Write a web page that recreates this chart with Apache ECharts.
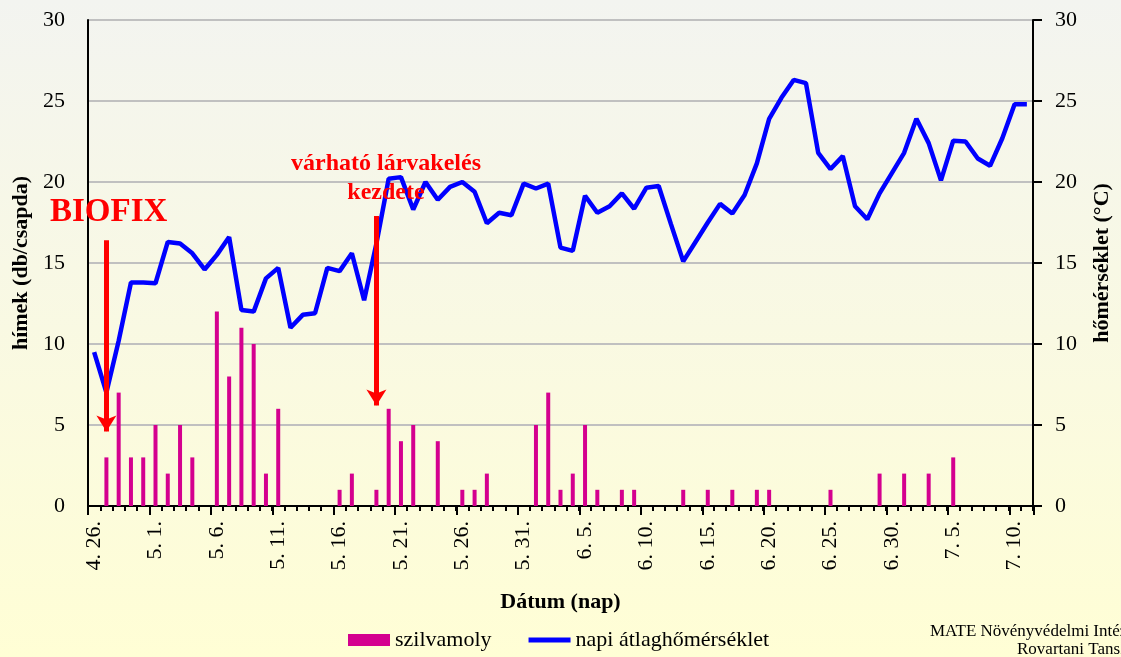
<!DOCTYPE html>
<html>
<head>
    <meta charset="utf-8">
    <title>szilvamoly</title>
    <script src="https://cdn.jsdelivr.net/npm/echarts@6/dist/echarts.min.js"></script>
    <style>
        html, body {
            margin: 0;
            padding: 0;
        }

        #chart {
            width: 1121px;
            height: 657px;
        }
    </style>
</head>
<body>
<div id="chart"></div>
<script>
    // napok (4.26. - 7.11.)
    var dates = [
        '4. 26.', '4. 27.', '4. 28.', '4. 29.', '4. 30.',
        '5. 1.', '5. 2.', '5. 3.', '5. 4.', '5. 5.', '5. 6.', '5. 7.', '5. 8.', '5. 9.', '5. 10.',
        '5. 11.', '5. 12.', '5. 13.', '5. 14.', '5. 15.', '5. 16.', '5. 17.', '5. 18.', '5. 19.', '5. 20.',
        '5. 21.', '5. 22.', '5. 23.', '5. 24.', '5. 25.', '5. 26.', '5. 27.', '5. 28.', '5. 29.', '5. 30.', '5. 31.',
        '6. 1.', '6. 2.', '6. 3.', '6. 4.', '6. 5.', '6. 6.', '6. 7.', '6. 8.', '6. 9.', '6. 10.',
        '6. 11.', '6. 12.', '6. 13.', '6. 14.', '6. 15.', '6. 16.', '6. 17.', '6. 18.', '6. 19.', '6. 20.',
        '6. 21.', '6. 22.', '6. 23.', '6. 24.', '6. 25.', '6. 26.', '6. 27.', '6. 28.', '6. 29.', '6. 30.',
        '7. 1.', '7. 2.', '7. 3.', '7. 4.', '7. 5.', '7. 6.', '7. 7.', '7. 8.', '7. 9.', '7. 10.', '7. 11.'
    ];

    // hímek fogása (db/csapda)
    var catches = [
        0, 3, 7, 3, 3, 5, 2, 5, 3, 0,
        12, 8, 11, 10, 2, 6, 0, 0, 0, 0,
        1, 2, 0, 1, 6, 4, 5, 0, 4, 0,
        1, 1, 2, 0, 0, 0, 5, 7, 1, 2,
        5, 1, 0, 1, 1, 0, 0, 0, 1, 0,
        1, 0, 1, 0, 1, 1, 0, 0, 0, 0,
        1, 0, 0, 0, 2, 0, 2, 0, 2, 0,
        3, 0, 0, 0, 0, 0, 0
    ];

    // napi átlaghőmérséklet (°C)
    var temps = [
        9.5, 7.0, 10.2, 13.8, 13.8, 13.75, 16.3, 16.2, 15.6, 14.6,
        15.5, 16.6, 12.1, 12.0, 14.05, 14.7, 11.0, 11.8, 11.9, 14.7,
        14.5, 15.6, 12.7, 16.2, 20.2, 20.3, 18.3, 20.0, 18.9, 19.7,
        20.0, 19.4, 17.45, 18.1, 17.95, 19.9, 19.6, 19.9, 15.95, 15.75,
        19.15, 18.1, 18.5, 19.3, 18.35, 19.65, 19.75, 17.4, 15.1, 16.3,
        17.5, 18.65, 18.05, 19.2, 21.15, 23.9, 25.2, 26.3, 26.1, 21.8,
        20.8, 21.6, 18.5, 17.7, 19.3, 20.55, 21.8, 23.9, 22.4, 20.1,
        22.55, 22.5, 21.45, 21.0, 22.7, 24.8, 24.8
    ];

    // nyilak: [nap indexe, kezdő érték, hegy értéke]
    var biofixArrow = [1, 16.4, 4.6];
    var larvaArrow = [23, 17.9, 6.2];

    var font = 'Liberation Serif, Times New Roman, serif';

    var chart = echarts.init(document.getElementById('chart'), null, {renderer: 'canvas'});

    var option = {
        animation: false,
        backgroundColor: new echarts.graphic.LinearGradient(0, 0, 0, 1, [
            {offset: 0, color: '#f3f4f0'},
            {offset: 1, color: '#fffed5'}
        ]),
        textStyle: {fontFamily: font},
        grid: [
            {left: 88, right: 87, top: 20, bottom: 151},
            {left: 88, right: 87, top: 20, bottom: 151}
        ],
        legend: {
            left: 343,
            top: 624,
            itemWidth: 42,
            itemHeight: 12,
            itemGap: 37,
            symbolKeepAspect: true,
            textStyle: {fontFamily: font, fontSize: 22, color: '#000'},
            data: [
                {name: 'szilvamoly', icon: 'rect'},
                {name: 'napi átlaghőmérséklet', icon: 'path://M0,0 L43,0 L43,5 L0,5 Z'}
            ]
        },
        xAxis: [
            {
                type: 'category',
                gridIndex: 0,
                data: dates,
                boundaryGap: true,
                name: 'Dátum (nap)',
                nameLocation: 'middle',
                nameGap: 85,
                nameTextStyle: {fontFamily: font, fontSize: 22, fontWeight: 'bold', color: '#000'},
                axisLine: {lineStyle: {color: '#000', width: 2}},
                axisTick: {show: true, interval: 0, length: 5, lineStyle: {color: '#000', width: 2}},
                axisLabel: {interval: 4, rotate: 90, margin: 15, fontSize: 22, color: '#000', fontFamily: font},
                splitLine: {show: false}
            },
            {
                // hosszabb osztásjelek minden 5. napnál
                type: 'category',
                gridIndex: 1,
                data: dates,
                boundaryGap: true,
                axisLine: {show: false},
                axisTick: {
                    show: true,
                    interval: function (i) { return i % 5 === 0; },
                    length: 9,
                    lineStyle: {color: '#000', width: 2}
                },
                axisLabel: {show: false},
                splitLine: {show: false}
            }
        ],
        yAxis: [
            {
                type: 'value',
                gridIndex: 0,
                min: 0,
                max: 30,
                interval: 5,
                position: 'left',
                name: 'hímek (db/csapda)',
                nameLocation: 'middle',
                nameGap: 54,
                nameTextStyle: {fontFamily: font, fontSize: 22, fontWeight: 'bold', color: '#000'},
                axisLine: {show: true, lineStyle: {color: '#000', width: 2}},
                axisTick: {show: false},
                axisLabel: {margin: 23, fontSize: 22, color: '#000', fontFamily: font},
                splitLine: {show: true, lineStyle: {color: '#c0c0c0', width: 2}}
            },
            {
                type: 'value',
                gridIndex: 0,
                min: 0,
                max: 30,
                interval: 5,
                position: 'right',
                name: 'hőmérséklet (°C)',
                nameLocation: 'middle',
                nameGap: 58,
                nameTextStyle: {fontFamily: font, fontSize: 22, fontWeight: 'bold', color: '#000'},
                axisLine: {show: true, lineStyle: {color: '#000', width: 2}},
                axisTick: {show: true, length: 9, lineStyle: {color: '#000', width: 2}},
                axisLabel: {margin: 22, fontSize: 22, color: '#000', fontFamily: font},
                splitLine: {show: false}
            },
            {
                type: 'value',
                gridIndex: 1,
                min: 0,
                max: 30,
                show: false
            }
        ],
        series: [
            {
                name: 'szilvamoly',
                type: 'bar',
                xAxisIndex: 0,
                yAxisIndex: 0,
                barWidth: 4,
                itemStyle: {color: '#d4008f'},
                data: catches
            },
            {
                name: 'napi átlaghőmérséklet',
                type: 'line',
                xAxisIndex: 0,
                yAxisIndex: 1,
                symbol: 'none',
                lineStyle: {color: '#0000ff', width: 4.5},
                itemStyle: {color: '#0000ff'},
                data: temps,
                markLine: {
                    silent: true,
                    symbol: ['none', 'arrow'],
                    symbolSize: [15, 16],
                    label: {show: false},
                    lineStyle: {color: '#ff0000', width: 5, type: 'solid'},
                    data: [
                        [
                            {coord: [dates[biofixArrow[0]], biofixArrow[1]]},
                            {coord: [dates[biofixArrow[0]], biofixArrow[2]]}
                        ],
                        [
                            {coord: [dates[larvaArrow[0]], larvaArrow[1]]},
                            {coord: [dates[larvaArrow[0]], larvaArrow[2]]}
                        ]
                    ]
                }
            }
        ],
        graphic: [
            {
                type: 'text', left: 50, top: 196, z: 100,
                style: {text: 'BIOFIX', fill: '#ff0000', font: 'bold 33px ' + font}
            },
            {
                type: 'text', x: 386, y: 164, z: 100,
                style: {text: 'várható lárvakelés', fill: '#ff0000', font: 'bold 24px ' + font, align: 'center', verticalAlign: 'middle'}
            },
            {
                type: 'text', x: 386, y: 193, z: 100,
                style: {text: 'kezdete', fill: '#ff0000', font: 'bold 24px ' + font, align: 'center', verticalAlign: 'middle'}
            },
            {
                type: 'text', x: 930, y: 632, z: 100,
                style: {text: 'MATE Növényvédelmi Intézet', fill: '#000', font: '17px ' + font, verticalAlign: 'middle'}
            },
            {
                type: 'text', x: 1017, y: 650, z: 100,
                style: {text: 'Rovartani Tanszék', fill: '#000', font: '17px ' + font, verticalAlign: 'middle'}
            }
        ]
    };

    chart.setOption(option);
</script>
</body>
</html>
